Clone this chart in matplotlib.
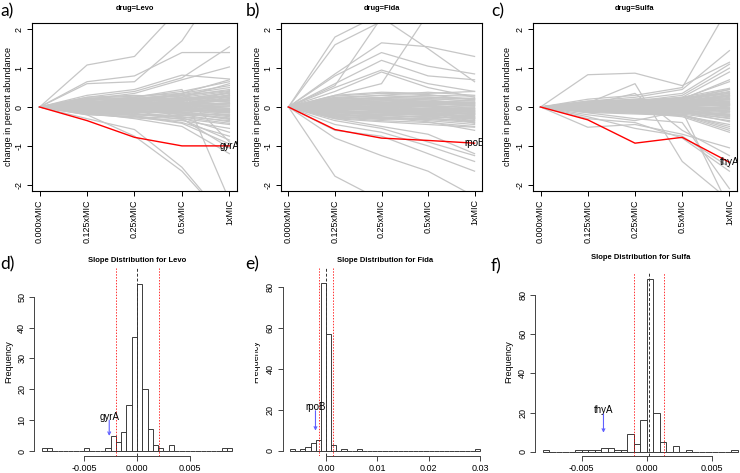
import numpy as np
import matplotlib.pyplot as plt
from matplotlib.transforms import Bbox, TransformedBbox

plt.rcParams['font.family'] = ['Liberation Sans', 'DejaVu Sans']

W, H = 740, 473

mic_labels = ['0.000xMIC', '0.125xMIC', '0.25xMIC', '0.5xMIC', '1xMIC']

# change in percent abundance at 0.125x, 0.25x, 0.5x, 1x MIC (0.000x is always 0)
levo_lines = [
    [0.05, 0.08, 0.12, 0.20], [-0.04, -0.06, -0.10, -0.15], [0.12, 0.15, 0.22, 0.35],
    [-0.10, -0.12, -0.18, -0.28], [0.02, 0.01, 0.03, 0.05], [-0.02, -0.03, -0.01, -0.06],
    [0.18, 0.22, 0.30, 0.42], [-0.15, -0.20, -0.25, -0.35], [0.08, 0.05, 0.10, 0.15],
    [-0.07, -0.05, -0.08, -0.12], [0.22, 0.28, 0.35, 0.55], [-0.20, -0.25, -0.30, -0.45],
    [0.10, 0.12, 0.08, 0.25], [-0.12, -0.10, -0.14, -0.22], [0.03, 0.06, 0.15, 0.30],
    [-0.05, -0.08, -0.20, -0.38], [0.15, 0.10, 0.05, 0.10], [-0.08, -0.15, -0.05, 0.00],
    [0.06, 0.12, 0.20, 0.12], [0.00, -0.02, 0.05, 0.18], [0.25, 0.30, 0.25, 0.40],
    [-0.18, -0.28, -0.35, -0.55], [0.04, 0.02, -0.05, -0.10], [-0.03, 0.04, 0.08, 0.22],
    [0.14, 0.18, 0.12, 0.05], [-0.14, -0.18, -0.22, -0.18], [0.09, 0.14, 0.25, 0.60],
    [-0.06, -0.12, -0.28, -0.65], [0.20, 0.15, 0.18, 0.30], [0.01, 0.05, 0.10, 0.08],
    [-0.01, -0.04, -0.12, -0.25], [0.07, 0.03, 0.02, -0.04], [0.11, 0.20, 0.28, 0.45],
    [-0.09, -0.07, -0.02, 0.10], [0.16, 0.25, 0.40, 0.65], [-0.16, -0.22, -0.40, -0.75],
    [0.05, 0.10, 0.35, 0.70], [-0.11, -0.16, -0.32, -0.85], [0.13, 0.08, -0.02, -0.08],
    [-0.04, 0.00, 0.04, 0.32], [0.02, 0.04, 0.06, 0.10], [-0.02, -0.05, -0.07, -0.10],
    [0.06, 0.09, 0.16, 0.26], [-0.06, -0.09, -0.15, -0.30], [0.19, 0.20, 0.22, 0.28],
    [-0.13, -0.14, -0.10, -0.05], [0.10, 0.16, 0.32, 0.50], [-0.09, -0.20, -0.26, -0.42],
    [0.03, -0.01, -0.08, -0.20], [0.08, 0.18, 0.14, 0.36], [-0.17, -0.12, -0.06, -0.14],
    [0.12, 0.06, 0.00, 0.02], [0.00, 0.03, 0.18, 0.38], [-0.03, -0.09, -0.16, -0.32],
    [0.21, 0.24, 0.20, 0.16],
    [1.08, 1.30, 2.60, 3.00], [0.65, 0.80, 1.40, 1.40], [0.60, 0.65, 1.70, 3.50],
    [0.30, 0.45, 0.82, 0.72], [0.25, 0.40, 0.75, 1.55], [0.20, 0.35, 0.70, 1.03],
    [0.10, 0.25, 0.45, -2.40], [-0.30, -0.58, -1.55, -3.00], [-0.20, -0.75, -1.65, -3.00],
    [-0.15, -0.30, -0.50, -1.20], [-0.18, -0.25, -0.42, -0.95], [0.15, 0.10, -0.30, -1.05],
    [0.05, 0.20, 0.35, -0.90],
]
fida_lines = [
    [0.05, 0.02, 0.00, -0.05], [-0.10, -0.12, -0.15, -0.18], [0.15, 0.18, 0.12, 0.10],
    [-0.20, -0.22, -0.25, -0.30], [0.00, -0.05, -0.08, -0.10], [-0.05, -0.08, -0.10, -0.20],
    [0.25, 0.30, 0.25, 0.20], [-0.25, -0.30, -0.32, -0.40], [0.10, 0.05, 0.02, 0.00],
    [-0.15, -0.18, -0.20, -0.25], [0.20, 0.25, 0.30, 0.28], [-0.28, -0.35, -0.40, -0.50],
    [0.08, 0.10, 0.15, 0.12], [-0.08, -0.15, -0.22, -0.35], [0.03, -0.02, -0.12, -0.28],
    [-0.12, -0.10, -0.05, -0.02], [0.18, 0.12, 0.08, 0.05], [-0.18, -0.25, -0.35, -0.45],
    [0.12, 0.15, 0.20, 0.22], [-0.02, -0.06, -0.04, -0.08], [0.28, 0.35, 0.32, 0.18],
    [-0.22, -0.20, -0.18, -0.15], [0.06, 0.08, 0.04, -0.12], [-0.06, -0.02, 0.05, 0.10],
    [0.14, 0.20, 0.22, 0.15], [-0.30, -0.38, -0.45, -0.52], [0.22, 0.30, 0.38, 0.30],
    [-0.16, -0.12, -0.15, -0.32], [0.02, 0.00, -0.03, -0.15], [-0.04, -0.10, -0.18, -0.22],
    [0.09, 0.04, -0.06, -0.05], [-0.09, -0.14, -0.12, -0.10], [0.17, 0.22, 0.18, 0.08],
    [-0.13, -0.20, -0.28, -0.38], [0.30, 0.38, 0.35, 0.40], [-0.26, -0.32, -0.28, -0.25],
    [0.11, 0.16, 0.10, 0.02], [-0.01, 0.03, 0.08, 0.05], [0.04, -0.04, -0.14, -0.42],
    [-0.19, -0.28, -0.38, -0.60], [0.01, -0.01, -0.06, -0.12], [-0.03, -0.07, -0.12, -0.16],
    [0.07, 0.06, 0.06, 0.04], [-0.11, -0.16, -0.18, -0.28], [0.13, 0.12, 0.05, -0.04],
    [-0.21, -0.26, -0.30, -0.35], [0.19, 0.24, 0.26, 0.22], [-0.07, -0.04, -0.08, -0.18],
    [0.04, 0.07, 0.10, 0.08], [-0.14, -0.22, -0.25, -0.30], [0.24, 0.20, 0.15, 0.12],
    [-0.01, -0.08, -0.16, -0.26], [0.10, 0.12, 0.12, 0.18], [-0.24, -0.28, -0.22, -0.20],
    [0.16, 0.10, 0.00, -0.08],
    [1.80, 2.40, 2.60, 2.60], [1.60, 2.20, 2.50, 2.40], [0.85, 1.65, 1.55, 1.30],
    [0.80, 1.40, 1.05, 0.85], [0.60, 1.20, 0.80, 0.70], [0.50, 0.95, 0.60, 0.40],
    [0.30, 0.60, 2.40, 2.60], [0.40, 0.90, 0.50, 0.25], [0.55, 2.30, 1.50, 0.65],
    [-1.78, -2.40, -2.60, -2.60], [-0.80, -1.25, -1.65, -2.30], [-0.60, -0.75, -1.20, -1.65],
    [-0.45, -0.65, -1.00, -1.40], [-0.35, -0.55, -0.90, -1.25], [-0.30, -0.50, -0.70, -1.20],
]
sulfa_lines = [
    [0.03, 0.05, 0.08, 0.15], [-0.03, -0.04, -0.06, -0.12], [0.08, 0.10, 0.15, 0.30],
    [-0.08, -0.10, -0.12, -0.25], [0.01, 0.02, 0.04, 0.05], [-0.01, -0.02, 0.00, -0.04],
    [0.12, 0.15, 0.20, 0.40], [-0.12, -0.15, -0.18, -0.35], [0.05, 0.03, 0.06, 0.10],
    [-0.05, -0.03, -0.05, -0.08], [0.15, 0.18, 0.22, 0.45], [-0.14, -0.18, -0.22, -0.45],
    [0.06, 0.08, 0.05, 0.20], [-0.07, -0.06, -0.10, -0.18], [0.02, 0.04, 0.10, 0.25],
    [-0.04, -0.06, -0.14, -0.30], [0.10, 0.06, 0.03, 0.08], [-0.06, -0.10, -0.04, 0.02],
    [0.04, 0.08, 0.12, 0.12], [0.00, -0.01, 0.04, 0.15], [0.14, 0.20, 0.18, 0.35],
    [-0.10, -0.16, -0.20, -0.50], [0.03, 0.01, -0.03, -0.06], [-0.02, 0.03, 0.06, 0.22],
    [0.09, 0.12, 0.10, 0.05], [-0.09, -0.12, -0.15, -0.20], [0.07, 0.10, 0.18, 0.45],
    [-0.05, -0.09, -0.20, -0.55], [0.11, 0.09, 0.14, 0.28], [0.01, 0.04, 0.08, 0.06],
    [-0.01, -0.03, -0.08, -0.22], [0.04, 0.02, 0.01, -0.02], [0.08, 0.14, 0.20, 0.38],
    [-0.07, -0.05, -0.01, 0.08], [0.13, 0.16, 0.25, 0.48], [-0.11, -0.14, -0.25, -0.65],
    [0.04, 0.07, 0.22, 0.65], [-0.08, -0.11, -0.22, -0.60], [0.09, 0.05, -0.02, -0.10],
    [-0.03, 0.00, 0.03, 0.30], [0.02, 0.03, 0.05, 0.10], [-0.02, -0.05, -0.08, -0.15],
    [0.05, 0.06, 0.10, 0.20], [-0.06, -0.07, -0.09, -0.20], [0.10, 0.11, 0.12, 0.18],
    [-0.10, -0.08, -0.06, -0.02], [0.07, 0.12, 0.22, 0.35], [-0.04, -0.12, -0.16, -0.28],
    [0.01, -0.01, -0.05, -0.12], [0.06, 0.13, 0.16, 0.32], [-0.12, -0.09, -0.12, -0.24],
    [0.08, 0.04, 0.02, 0.04], [0.00, 0.02, 0.12, 0.28], [-0.03, -0.07, -0.12, -0.38],
    [0.12, 0.14, 0.15, 0.22],
    [0.83, 0.87, 0.55, 1.15], [0.10, 0.60, -1.40, -2.40], [0.05, 0.35, -0.60, -1.25],
    [0.20, 0.30, 0.50, 2.60], [0.15, 0.25, 0.45, 1.45], [0.10, 0.20, 0.35, 1.10],
    [0.08, 0.15, 0.30, 1.00], [0.10, 0.12, 0.25, 0.90], [-0.52, -0.45, -0.70, -1.05],
    [-0.30, -0.40, -0.80, -1.65], [-0.25, -0.55, -0.75, -1.55], [-0.20, -0.35, -0.10, -2.60],
    [-0.15, -0.30, -0.40, -2.10], [0.05, 0.10, 0.20, 0.70],
]

levo_gene = [0.0, -0.35, -0.78, -1.00, -1.00]
fida_gene = [0.0, -0.58, -0.80, -0.86, -0.93]
sulfa_gene = [0.0, -0.33, -0.93, -0.78, -1.42]

# slope histograms: first bin edge, bin width, counts
levo_start, levo_bw = -0.009, 0.0005
levo_counts = [1, 1, 0, 0, 0, 0, 0, 0, 1, 0, 0, 0, 1, 5, 3, 6, 15, 37, 54, 20, 7, 2, 1, 0,
               2, 0, 0, 0, 0, 0, 0, 0, 0, 0, 1, 1]
fida_start, fida_bw = -0.007, 0.001
fida_counts = [1, 0, 1, 2, 4, 5, 82, 57, 3, 0, 1, 0, 0, 1] + [0] * 22 + [1]
sulfa_start, sulfa_bw = -0.008, 0.0005
sulfa_counts = [1, 0, 0, 0, 0, 1, 1, 1, 1, 2, 2, 1, 1, 9, 4, 16, 88, 20, 5, 0, 3, 0, 1,
                0, 0, 0, 0, 0, 0, 1]

levo_cut = [-0.00199, 0.00205]
fida_cut = [-0.0013, 0.00143]
sulfa_cut = [-0.00096, 0.00136]
levo_mid, fida_mid, sulfa_mid = 0.00003, 0.0, 0.0002


fig = plt.figure(figsize=(W / 100, H / 100), dpi=100)


def px_axes(l, t, r, b):
    return fig.add_axes([l / W, 1 - b / H, (r - l) / W, (b - t) / H])


def ftext(x, y, s, **kw):
    return fig.text(x / W, 1 - y / H, s, **kw)


def line_panel(l, r, lines, gene, name, title, letter, lx, ylab_x):
    ax = px_axes(l, 23, r, 191)
    xs = np.arange(1, 6)
    for v in lines:
        ax.plot(xs, [0.0] + v, color='#c6c6c6', lw=0.9)
    ax.plot(xs, gene, color='red', lw=1.0)
    ax.text(5, gene[-1], name, ha='center', va='center', fontsize=7, clip_on=True)
    ax.set_xlim(0.84, 5.16)
    ax.set_ylim(-2.16, 2.16)
    ax.set_xticks(xs)
    ax.set_xticklabels(mic_labels, rotation=90, fontsize=6.5)
    ax.set_yticks([-2, -1, 0, 1, 2])
    ax.set_yticklabels(['-2', '-1', '0', '1', '2'], fontsize=6.5, rotation=90, va='center')
    ax.tick_params(length=3.6, width=0.7, pad=2.5)
    for s in ax.spines.values():
        s.set_linewidth(0.8)
    ftext((l + r) / 2, 8, title, ha='center', va='center', fontsize=5.4, fontweight='bold')
    ftext(ylab_x, 107, 'change in percent abundance', rotation=90, ha='center', va='center',
          fontsize=6.5)
    ftext(lx, 11, letter, ha='left', va='center', fontsize=12.5, family='Lato')
    return ax


def hist_panel(l, r, t, b, xlim, ylim, start, bw, counts, xticks, xlabels, ytop, cut, mid,
               name, tx, ty, a0, a1, title, title_y, letter, lx, ly, ylab_x):
    ax = px_axes(l, t, r, b)
    edges = start + bw * np.arange(len(counts))
    ax.bar(edges, counts, width=bw, align='edge', fill=False, edgecolor='#3c3c3c', lw=0.7)
    for c in cut:
        ax.axvline(c, color='red', lw=0.7, ls=(0, (1.5, 1.5)), alpha=0.8)
    ax.axvline(mid, color='#333333', lw=0.7, ls=(0, (3, 2)))
    ax.text(tx, ty, name, ha='center', va='center', fontsize=7)
    ax.annotate('', xy=(tx, a1), xytext=(tx, a0),
                arrowprops=dict(arrowstyle='->', color='#6060ff', lw=0.8,
                                shrinkA=0, shrinkB=0, mutation_scale=5))
    ax.set_xlim(*xlim)
    ax.set_ylim(*ylim)
    ax.set_xticks(xticks)
    ax.set_xticklabels(xlabels, fontsize=6.5)
    yt = np.arange(0, ytop + 1, 10 if ytop == 50 else 20)
    ax.set_yticks(yt)
    ax.set_yticklabels([str(v) for v in yt], fontsize=6.5, rotation=90, va='center')
    ax.tick_params(length=3.6, width=0.7, pad=2.0, color='#444444')
    ax.spines['top'].set_visible(False)
    ax.spines['right'].set_visible(False)
    ax.spines['left'].set_bounds(0, ytop)
    ax.spines['bottom'].set_bounds(xticks[0], xticks[-1])
    for s in ('left', 'bottom'):
        ax.spines[s].set_linewidth(0.7)
        ax.spines[s].set_color('#444444')
    ax.patch.set_visible(False)
    ftext((l + r) / 2, title_y, title, ha='center', va='center', fontsize=5.5,
          fontweight='bold')
    ftext(lx, ly, letter, ha='left', va='center', fontsize=12.5, family='Lato')
    lab = ftext(ylab_x, 362, 'Frequency', rotation=90, ha='center', va='center', fontsize=6.5)
    return ax, lab


line_panel(32, 237, levo_lines, levo_gene, 'gyrA', 'drug=Levo', 'a)', 0, 8.5)
line_panel(281, 482, fida_lines, fida_gene, 'rpoB', 'drug=Fida', 'b)', 246, 257)
line_panel(533, 737, sulfa_lines, sulfa_gene, 'thyA', 'drug=Sulfa', 'c)', 491, 508)

hist_panel(34, 240, 268, 456, (-0.00972, 0.00972), (-1.62, 59.3), levo_start, levo_bw,
           levo_counts, [-0.005, 0.0, 0.005], ['-0.005', '0.000', '0.005'], 50,
           levo_cut, levo_mid, 'gyrA', -0.00262, 11.1, 10.0, 4.9,
           'Slope Distribution for Levo', 260, 'd)', 0, 264, 9)
ax_e, lab_e = hist_panel(282.5, 487.5, 268, 456, (-0.00848, 0.03148), (-2.58, 89.1),
                         fida_start, fida_bw, fida_counts, [0.0, 0.01, 0.02, 0.03],
                         ['0.00', '0.01', '0.02', '0.03'], 80, fida_cut, fida_mid,
                         'rpoB', -0.00205, 21.5, 19.5, 9.8,
                         'Slope Distribution for Fida', 260, 'e)', 245, 264, 256)
hist_panel(535, 745.5, 273, 456, (-0.0086, 0.0076), (-2.2, 91.2), sulfa_start, sulfa_bw,
           sulfa_counts, [-0.005, 0.0, 0.005], ['-0.005', '0.000', '0.005'], 80,
           sulfa_cut, sulfa_mid, 'thyA', -0.00333, 21.3, 19.2, 9.7,
           'Slope Distribution for Sulfa', 257, 'f)', 491, 266, 509)

# the Fida y label is partly covered in the original
clip = TransformedBbox(Bbox([[255 / W, 0], [1, 1]]), fig.transFigure)
lab_e.set_clip_box(clip)
lab_e.set_clip_on(True)

fig.savefig('out.png', dpi=100)
